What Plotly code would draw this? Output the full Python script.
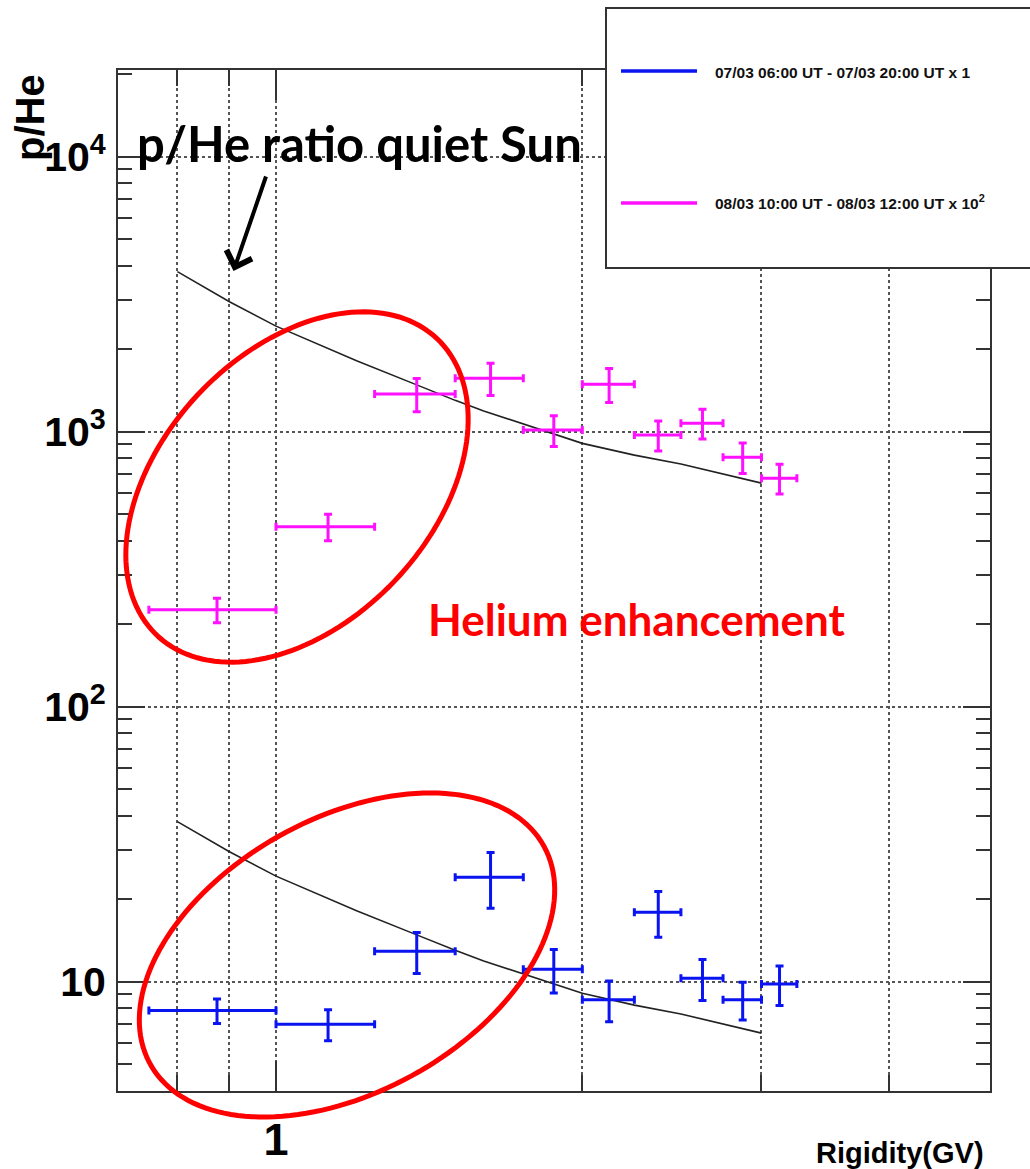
import numpy as np
import plotly.graph_objects as go

# ---------------- data ----------------
rigidity = [0.875, 1.125, 1.375, 1.625, 1.875, 2.125, 2.375, 2.625, 2.875, 3.125]
bin_half = [0.125, 0.125, 0.125, 0.125, 0.125, 0.125, 0.125, 0.125, 0.125, 0.125]

ratio_0703 = [7.85, 7.0, 12.9, 24.0, 11.1, 8.6, 17.9, 10.3, 8.6, 9.8]
err_0703 = [0.8, 0.9, 2.2, 5.5, 2.0, 1.45, 3.4, 1.75, 1.35, 1.6]
scale_0703 = 1

ratio_0803 = [2.25, 4.51, 13.71, 15.63, 10.14, 14.87, 9.72, 10.73, 8.07, 6.77]
err_0803 = [0.23, 0.50, 1.9, 2.1, 1.3, 2.1, 1.22, 1.33, 1.02, 0.84]
scale_0803 = 100

quiet_x = [0.8, 0.9, 1.0, 1.2, 1.375, 1.5, 1.6, 2.0, 2.25, 2.5, 3.0]
quiet_y = [38.2, 29.7, 24.2, 18.1, 14.8, 13.0, 11.9, 9.07, 8.22, 7.63, 6.5]

x_major = [1]
x_major_text = ["1"]
x_minor = [0.8, 0.9, 2, 3, 4]
y_major = [10, 100, 1000, 10000]
y_major_text = ["10", "10<sup>2</sup>", "10<sup>3</sup>", "10<sup>4</sup>"]

legend_labels = ["07/03 06:00 UT - 07/03 20:00 UT x 1",
                 "08/03 10:00 UT - 08/03 12:00 UT x 10<sup>2</sup>"]

BLUE = "#0a14f0"
MAGENTA = "#ff10ff"
AX = "#333333"
GRID = "#555555"

W, H = 1030, 1169
L, R, T, B = 118, 40, 70, 78
PW, PH = W - L - R, H - T - B


def pxx(x):
    return (x - L) / PW


def pxy(y):
    return (H - B - y) / PH


fig = go.Figure()

for xs, ys, sc in [(quiet_x, quiet_y, scale_0803), (quiet_x, quiet_y, scale_0703)]:
    fig.add_trace(go.Scatter(x=xs, y=[v * sc for v in ys], mode="lines",
                             line=dict(color="#222222", width=1.6),
                             showlegend=False, hoverinfo="skip"))

for vals, errs, sc, col in [(ratio_0803, err_0803, scale_0803, MAGENTA),
                            (ratio_0703, err_0703, scale_0703, BLUE)]:
    fig.add_trace(go.Scatter(
        x=rigidity, y=[v * sc for v in vals], mode="markers",
        marker=dict(size=3, color=col),
        error_x=dict(type="data", array=bin_half, color=col, thickness=3, width=4),
        error_y=dict(type="data", array=[e * sc for e in errs], color=col, thickness=3, width=4),
        showlegend=False))

y_minor = [k * 10 ** d for d in range(0, 5) for k in range(2, 10) if 4 <= k * 10 ** d <= 20000]

fig.update_xaxes(type="log", range=[-0.1553, 0.7017], automargin=False,
                 showline=True, linecolor=AX, linewidth=2, mirror="allticks",
                 ticks="inside", tickvals=x_major, ticktext=x_major_text,
                 ticklen=30, tickwidth=2, tickcolor=AX,
                 showgrid=True, gridcolor=GRID, griddash="dot", gridwidth=1.5,
                 minor=dict(tickmode="array", tickvals=x_minor, ticks="inside", ticklen=16,
                            tickwidth=2, tickcolor=AX, showgrid=True, gridcolor=GRID,
                            griddash="dot", gridwidth=1.5),
                 tickfont=dict(family="Liberation Sans, Arial", size=45, color="black", weight="bold"),
                 ticklabelstandoff=8, zeroline=False)

fig.update_yaxes(type="log", range=[0.6025, 4.3153], automargin=False,
                 showline=True, linecolor=AX, linewidth=2, mirror="allticks",
                 ticks="inside", tickvals=y_major, ticktext=y_major_text,
                 ticklen=27, tickwidth=2, tickcolor=AX,
                 showgrid=True, gridcolor=GRID, griddash="dot", gridwidth=1.5,
                 minor=dict(tickmode="array", tickvals=y_minor, ticks="inside", ticklen=14,
                            tickwidth=2, tickcolor=AX, showgrid=False),
                 tickfont=dict(family="Liberation Sans, Arial", size=41, color="black", weight="bold"),
                 ticklabelstandoff=2, zeroline=False)


def ellipse_path(cx, cy, a, b, ang_deg, n=160):
    t = np.linspace(0, 2 * np.pi, n)
    th = np.deg2rad(ang_deg)
    xs = cx + a * np.cos(t) * np.cos(th) + b * np.sin(t) * np.sin(th)
    ys = cy - a * np.cos(t) * np.sin(th) + b * np.sin(t) * np.cos(th)
    pts = [f"{pxx(x):.5f},{pxy(y):.5f}" for x, y in zip(xs, ys)]
    return "M" + " L".join(pts) + " Z"


shapes = [
    dict(type="path", xref="paper", yref="paper", path=ellipse_path(297, 487, 204, 135.5, 46.7),
         line=dict(color="#ff0000", width=5)),
    dict(type="path", xref="paper", yref="paper", path=ellipse_path(347, 955, 225, 137, 29),
         line=dict(color="#ff0000", width=5)),
    # legend box
    dict(type="rect", xref="paper", yref="paper", x0=pxx(606), x1=pxx(1045), y0=pxy(268), y1=pxy(8),
         line=dict(color=AX, width=2), fillcolor="white", layer="above"),
    dict(type="line", xref="paper", yref="paper", x0=pxx(621), x1=pxx(697), y0=pxy(71), y1=pxy(71),
         line=dict(color=BLUE, width=3.5)),
    dict(type="line", xref="paper", yref="paper", x0=pxx(621), x1=pxx(697), y0=pxy(203), y1=pxy(203),
         line=dict(color=MAGENTA, width=3.5)),
]

legfont = dict(family="Liberation Sans, Arial", size=15.5, color="#111", weight="bold")

annotations = [
    dict(text=legend_labels[0], x=pxx(713), y=pxy(72), xref="paper", yref="paper",
         xanchor="left", yanchor="middle", showarrow=False, font=legfont),
    dict(text=legend_labels[1], x=pxx(713), y=pxy(202), xref="paper", yref="paper",
         xanchor="left", yanchor="middle", showarrow=False, font=legfont),
    dict(text="p/He ratio quiet Sun", x=pxx(359), y=pxy(143), xref="paper", yref="paper",
         xanchor="center", yanchor="middle", showarrow=False,
         font=dict(family="Lato", size=49, color="black", weight="bold")),
    dict(text="Helium enhancement", x=pxx(637), y=pxy(619), xref="paper", yref="paper",
         xanchor="center", yanchor="middle", showarrow=False,
         font=dict(family="Lato", size=44, color="#ff0000", weight="bold")),
    dict(text="", x=pxx(233.5), y=pxy(271), xref="paper", yref="paper",
         ax=33, ay=-96, showarrow=True, arrowhead=4, arrowsize=1.3, arrowwidth=4,
         arrowcolor="black"),
    dict(text="p/He", x=pxx(30), y=pxy(118), xref="paper", yref="paper",
         xanchor="center", yanchor="middle", showarrow=False, textangle=-90,
         font=dict(family="Liberation Sans, Arial", size=40, color="black", weight="bold")),
    dict(text="Rigidity(GV)", x=pxx(986), y=pxy(1153), xref="paper", yref="paper",
         xanchor="right", yanchor="middle", showarrow=False,
         font=dict(family="Liberation Sans, Arial", size=29, color="black", weight="bold")),
]

fig.update_layout(width=W, height=H, margin=dict(l=L, r=R, t=T, b=B, pad=0, autoexpand=False),
                  plot_bgcolor="white", paper_bgcolor="white",
                  shapes=shapes, annotations=annotations, showlegend=False)

fig.write_html("out.html")
